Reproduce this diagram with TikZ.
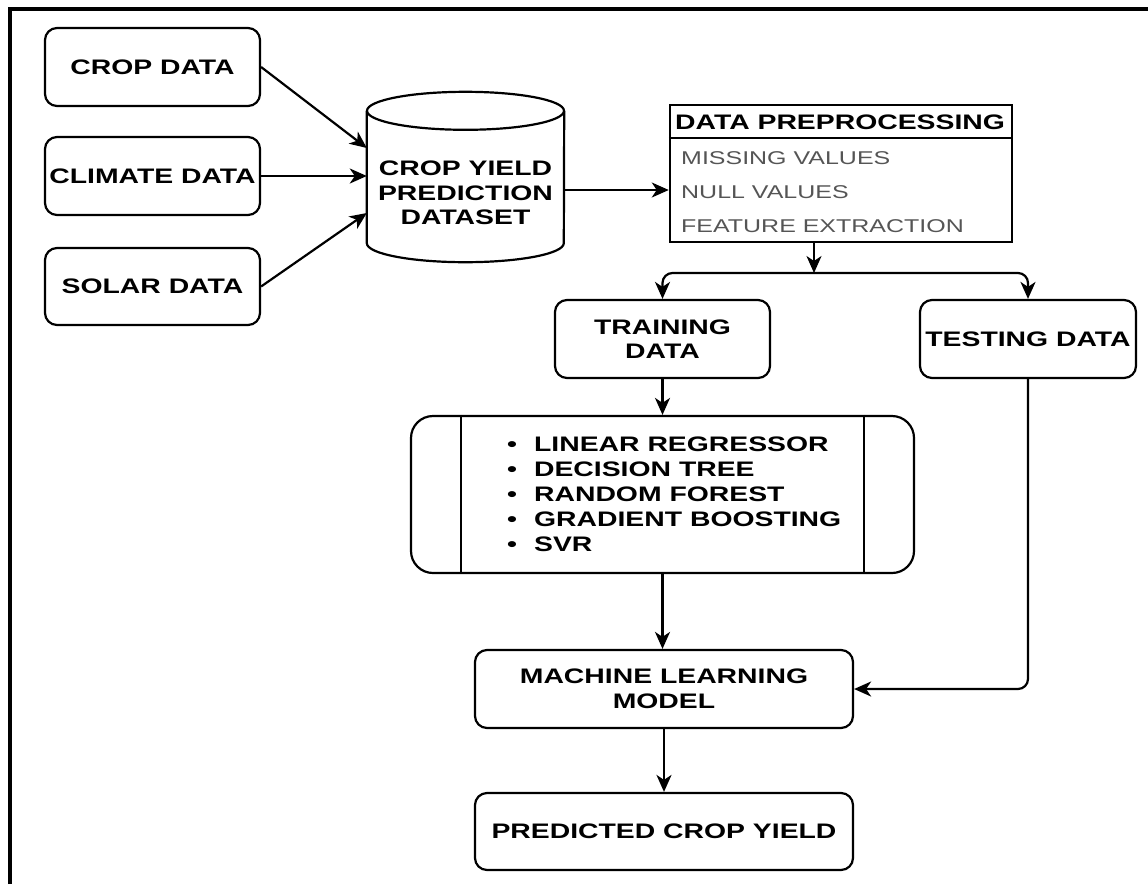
\documentclass[tikz,border=0pt]{standalone}
\usepackage{fontspec}
\setmainfont{Liberation Sans}[FakeStretch=1.35]
\usetikzlibrary{arrows.meta}
\definecolor{itemgray}{RGB}{85,85,85}
\begin{document}
\begin{tikzpicture}[x=1pt,y=-1pt,
  lbl/.style={font=\bfseries\fontsize{21}{24.5}\selectfont, align=center, inner sep=0pt},
  box/.style={lbl, draw, line width=2.2pt, rounded corners=12pt},
  item/.style={font=\fontsize{18.5}{22}\selectfont, text=itemgray, inner sep=0pt, anchor=west},
  arr/.style={line width=2.2pt, -{Stealth[length=17pt,width=15pt,inset=5pt]}}]
\useasboundingbox (0,0) rectangle (1148,884);
% frame
\draw[line width=4pt, line join=miter] (10,884) -- (10,9) -- (1148,9);
% sources
\node[box, minimum width=215pt, minimum height=78pt] (crop) at (152.5,67) {CROP DATA};
\node[box, minimum width=215pt, minimum height=78pt] (climate) at (152.5,176) {CLIMATE DATA};
\node[box, minimum width=215pt, minimum height=77pt] (solar) at (152.5,286.5) {SOLAR DATA};
% cylinder
\node[inner sep=0pt, minimum width=197pt, minimum height=132pt] (cyl) at (465.5,177) {};
\draw[line width=2.2pt] (cyl.north west) -- (cyl.south west)
  arc[start angle=180, end angle=360, x radius=98.5pt, y radius=19pt] -- (cyl.north east);
\draw[line width=2.2pt] (cyl.north) ellipse[x radius=98.5pt, y radius=19pt];
\node[lbl] (cyltxt) at (465.5,193) {CROP YIELD\\PREDICTION\\DATASET};
% data preprocessing
\node[draw, line width=2.5pt, minimum width=342pt, minimum height=137pt, inner sep=0pt] (dp) at (841,173.5) {};
\draw[line width=2.2pt] ([yshift=-34pt]dp.north west) -- ([yshift=-34pt]dp.north east);
\node[lbl, anchor=west] (dphead) at (675,122) {DATA PREPROCESSING};
\node[item] (miss) at (681,158) {MISSING VALUES};
\node[item] (null) at (681,192) {NULL VALUES};
\node[item] (feat) at (681,226) {FEATURE EXTRACTION};
% training / testing
\node[box, minimum width=215pt, minimum height=78pt] (train) at (662.5,339) {TRAINING\\DATA};
\node[box, minimum width=216pt, minimum height=78pt] (test) at (1028,339) {TESTING DATA};
% models
\node[draw, line width=2.2pt, rounded corners=22pt, minimum width=503pt, minimum height=157pt, inner sep=0pt] (models) at (662.5,494.5) {};
\draw[line width=2.2pt] ([xshift=51pt]models.north west) -- ([xshift=51pt]models.south west);
\draw[line width=2.2pt] ([xshift=-51pt]models.north east) -- ([xshift=-51pt]models.south east);
\node[lbl, align=left, anchor=west, font=\bfseries\fontsize{21}{25}\selectfont] (mlist) at (507,494.5)
  {\textbullet\hspace{17pt}LINEAR REGRESSOR\\
   \textbullet\hspace{17pt}DECISION TREE\\
   \textbullet\hspace{17pt}RANDOM FOREST\\
   \textbullet\hspace{17pt}GRADIENT BOOSTING\\
   \textbullet\hspace{17pt}SVR};
% ML model and result
\node[box, minimum width=378pt, minimum height=78pt] (ml) at (664,689) {MACHINE LEARNING\\MODEL};
\node[box, minimum width=378pt, minimum height=77pt] (pred) at (664,831.5) {PREDICTED CROP YIELD};
% connectors
\draw[arr] (crop.east) -- ([yshift=29pt]cyl.west);
\draw[arr] (climate.east) -- (climate.east -| cyl.west);
\draw[arr] (solar.east) -- ([yshift=-36pt]cyl.west);
\coordinate (cylout) at ([yshift=-13pt]cyl.east);
\draw[arr] (cylout) -- (cylout -| dp.west);
\coordinate (dpout) at ([xshift=-27pt]dp.south);
\coordinate (fork) at (814,273);
\draw[arr] (dpout) -- (fork);
\draw[arr, rounded corners=10pt] (fork) -| (train.north);
\draw[arr, rounded corners=10pt] (fork) -| (test.north);
\draw[arr] (train.south) -- (models.north);
\draw[arr] (models.south) -- (models.south |- ml.north);
\draw[arr] (ml.south) -- (pred.north);
\draw[arr, rounded corners=10pt] (test.south) |- (ml.east);
\end{tikzpicture}
\end{document}
